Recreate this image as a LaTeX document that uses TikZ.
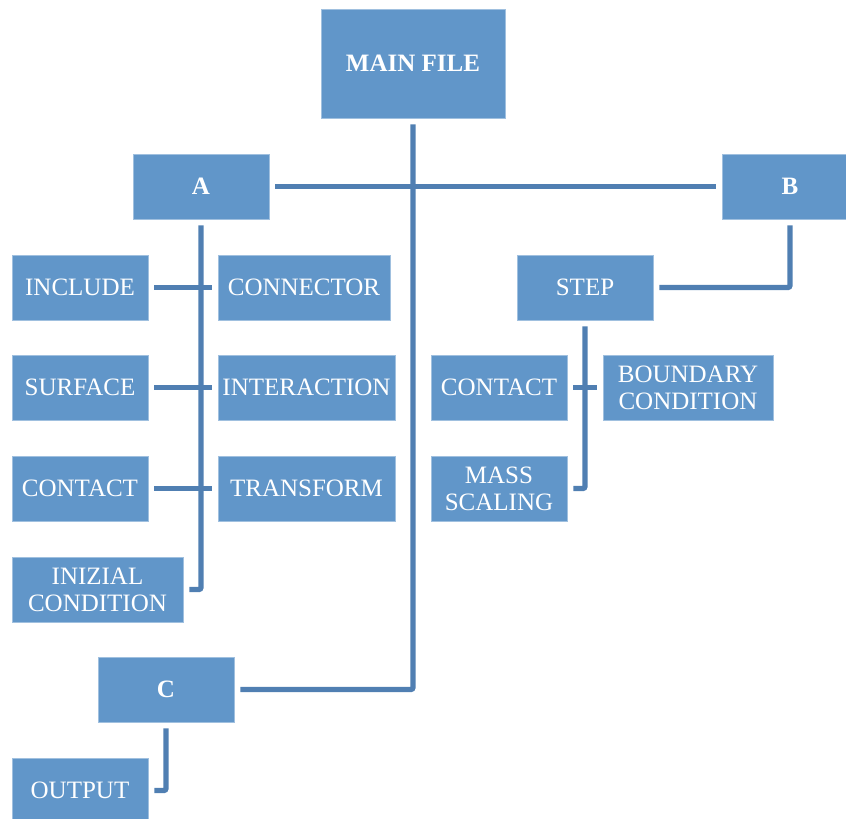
\documentclass[tikz,border=0pt]{standalone}
\usepackage{fontspec}
\setmainfont{Liberation Serif}
\usepackage{xcolor}
\usepackage{tikz}
\usetikzlibrary{positioning}

\definecolor{boxblue}{RGB}{97,150,201}
\definecolor{lineblue}{RGB}{80,127,178}

\begin{document}
\begin{tikzpicture}[
    x=0.5pt, y=-0.5pt,
    font=\fontsize{12.5}{13.5}\selectfont,
    box/.style={rectangle, fill=boxblue, draw=boxblue!60!white, line width=0.4pt, minimum width=68pt, minimum height=32.5pt, inner sep=0pt, align=center, text=white},
    bigbox/.style={box, font=\fontsize{12.5}{13.5}\selectfont\bfseries},
    link/.style={draw=lineblue, line width=2.6pt, rounded corners=1pt, shorten <=3pt, shorten >=3pt},
]
\useasboundingbox (0,0) rectangle (846,819);

% Main
\node[bigbox, minimum width=92pt, minimum height=54.5pt] (main) at (413,63.5) {MAIN FILE};

% First level
\node[bigbox] (A) at (201,186.5) {A};
\node[bigbox] (B) at (790,186.5) {B};
\node[bigbox] (C) at (166,689.5) {C};
\draw[link] (A) -- (B);
\draw[link] (main.south) |- (C.east);

% A branch
\node[box] (include) at (80,287.5) {INCLUDE};
\node[box, minimum width=86pt] (connector) at (304,287.5) {CONNECTOR};
\node[box] (surface) at (80,387.5) {SURFACE};
\node[box, minimum width=88.5pt] (interaction) at (306.5,387.5) {INTERACTION};
\node[box] (contactA) at (80,488.5) {CONTACT};
\node[box, minimum width=88.5pt] (transform) at (306.5,488.5) {TRANSFORM};
\node[box, minimum width=85.5pt] (inizial) at (97.5,589.5) {INIZIAL\\CONDITION};
\draw[link] (A.south) |- (inizial.east);
\draw[link] (include) -- (connector);
\draw[link] (surface) -- (interaction);
\draw[link] (contactA) -- (transform);

% B branch
\node[box] (stepbox) at (585,287.5) {STEP};
\node[box] (contactB) at (499,387.5) {CONTACT};
\node[box, minimum width=85pt] (boundary) at (688,387.5) {BOUNDARY\\CONDITION};
\node[box] (mass) at (499,488.5) {MASS\\SCALING};
\draw[link] (B.south) |- (stepbox.east);
\draw[link] (stepbox.south) |- (mass.east);
\draw[link] (contactB) -- (boundary);

% C branch
\node[box] (output) at (80,790.5) {OUTPUT};
\draw[link] (C.south) |- (output.east);

\end{tikzpicture}
\end{document}
